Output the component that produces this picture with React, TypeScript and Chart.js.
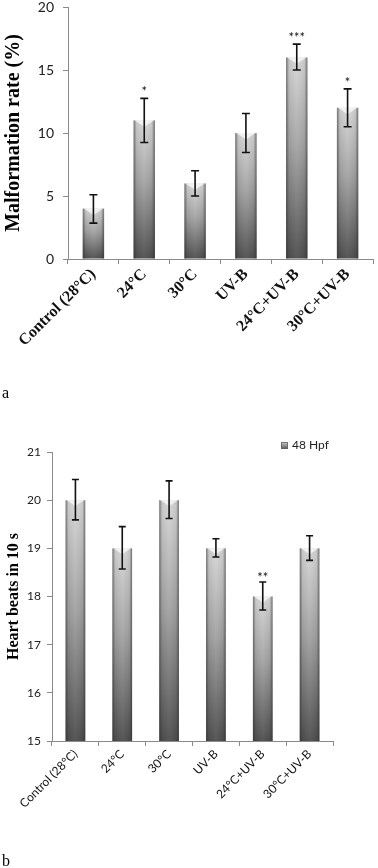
import React, { useEffect, useRef } from 'react';
import { Chart, registerables } from 'chart.js';

Chart.register(...registerables);

// ---------- data: panel a ----------
const categories = ['Control (28°C)', '24°C', '30°C', 'UV-B', '24°C+UV-B', '30°C+UV-B'];
const malformationRate = [4, 11, 6, 10, 16, 12];
const malformationLow = [2.85, 9.25, 5.0, 8.45, 15.0, 10.5];
const malformationHigh = [5.1, 12.75, 7.0, 11.55, 17.05, 13.5];
const malformationSig = ['', '*', '', '', '***', '*'];
const malformationTicks = [0, 5, 10, 15, 20];

// ---------- data: panel b ----------
const heartBeats = [20, 19, 20, 19, 18, 19];
const heartLow = [19.59, 18.57, 19.62, 18.82, 17.72, 18.75];
const heartHigh = [20.43, 19.45, 20.4, 19.2, 18.3, 19.26];
const heartSig = ['', '', '', '', '**', ''];
const heartTicks = [15, 16, 17, 18, 19, 20, 21];
const seriesLabel = '48 Hpf';

const AXIS = '#8a8a8a';

function barFill(c: any) {
  const chart = c.chart;
  if (c.type !== 'data' || !chart.chartArea) return '#9a9a9a';
  const ys = chart.scales.y;
  const top = ys.getPixelForValue(c.raw);
  const bottom = ys.getPixelForValue(ys.min);
  const g = chart.ctx.createLinearGradient(0, top, 0, bottom);
  g.addColorStop(0, '#d6d6d6');
  g.addColorStop(0.45, '#a2a2a2');
  g.addColorStop(1, '#4c4c4c');
  return g;
}

function makeDecor(low: number[], high: number[], sig: string[], cap: number, sigFont: string, sigGap: number) {
  return {
    id: 'barDecor',
    afterDatasetsDraw(chart: any) {
      const ctx = chart.ctx;
      const ys = chart.scales.y;
      const area = chart.chartArea;
      const meta = chart.getDatasetMeta(0);
      meta.data.forEach((bar: any, i: number) => {
        const { x, y, base, width } = bar.getProps(['x', 'y', 'base', 'width'], true);
        const left = x - width / 2;
        const right = x + width / 2;
        const bottom = Math.min(base, area.bottom);
        ctx.save();
        const hg = ctx.createLinearGradient(left, 0, right, 0);
        hg.addColorStop(0, 'rgba(45,45,45,0.6)');
        hg.addColorStop(0.14, 'rgba(45,45,45,0.08)');
        hg.addColorStop(0.5, 'rgba(255,255,255,0.06)');
        hg.addColorStop(0.86, 'rgba(45,45,45,0.08)');
        hg.addColorStop(1, 'rgba(45,45,45,0.6)');
        ctx.fillStyle = hg;
        ctx.fillRect(left, y, width, bottom - y);
        // top bevel
        ctx.beginPath();
        ctx.moveTo(left + 1, y);
        ctx.lineTo(right - 1, y);
        ctx.lineTo(x, y + width * 0.3);
        ctx.closePath();
        ctx.fillStyle = 'rgba(255,255,255,0.7)';
        ctx.fill();
        // error bars
        const lo = ys.getPixelForValue(low[i]);
        const hi = ys.getPixelForValue(high[i]);
        ctx.strokeStyle = '#111';
        ctx.lineWidth = 1.6;
        ctx.beginPath();
        ctx.moveTo(x, lo);
        ctx.lineTo(x, hi);
        ctx.moveTo(x - cap / 2, lo);
        ctx.lineTo(x + cap / 2, lo);
        ctx.moveTo(x - cap / 2, hi);
        ctx.lineTo(x + cap / 2, hi);
        ctx.stroke();
        if (sig[i]) {
          ctx.fillStyle = '#111';
          ctx.font = sigFont;
          ctx.textAlign = 'center';
          ctx.textBaseline = 'alphabetic';
          ctx.fillText(sig[i], x, hi - sigGap);
        }
        ctx.restore();
      });
    },
  };
}

const legendPlugin = {
  id: 'seriesLegend',
  afterDraw(chart: any) {
    const ctx = chart.ctx;
    const area = chart.chartArea;
    const bx = area.right - 52;
    const by = area.top - 10;
    ctx.save();
    const g = ctx.createLinearGradient(0, by, 0, by + 7);
    g.addColorStop(0, '#d0d0d0');
    g.addColorStop(1, '#555');
    ctx.fillStyle = g;
    ctx.fillRect(bx, by, 7, 7);
    ctx.strokeStyle = '#666';
    ctx.lineWidth = 0.8;
    ctx.strokeRect(bx + 0.5, by + 0.5, 6, 6);
    ctx.fillStyle = '#222';
    ctx.font = '12px Lato';
    ctx.textAlign = 'left';
    ctx.textBaseline = 'middle';
    ctx.fillText(seriesLabel, bx + 11, by + 3.5);
    ctx.restore();
  },
};

function makeConfig(opts: {
  values: number[];
  min: number;
  max: number;
  step: number;
  tickValues: number[];
  title: string;
  titleSize: number;
  titlePad: number;
  yWidth: number;
  xHeight: number;
  padTop: number;
  padRight: number;
  xFont: any;
  yFont: any;
  yPad: number;
  plugins: any[];
}): any {
  return {
    type: 'bar',
    data: {
      labels: categories,
      datasets: [
        {
          label: seriesLabel,
          data: opts.values,
          backgroundColor: barFill,
          borderWidth: 0,
          barPercentage: 0.42,
          categoryPercentage: 1,
        },
      ],
    },
    plugins: opts.plugins,
    options: {
      responsive: false,
      animation: false,
      devicePixelRatio: 1,
      layout: { padding: { top: opts.padTop, right: opts.padRight, left: 0, bottom: 0 } },
      plugins: { legend: { display: false }, tooltip: { enabled: false } },
      scales: {
        x: {
          offset: true,
          grid: { drawOnChartArea: false, drawTicks: true, tickLength: 5, color: AXIS, offset: true },
          border: { display: true, color: AXIS, width: 1 },
          ticks: {
            autoSkip: false,
            maxRotation: 45,
            minRotation: 45,
            padding: 1,
            color: '#111',
            font: opts.xFont,
          },
          afterFit: (s: any) => {
            s.height = opts.xHeight;
            s.paddingLeft = 0;
            s.paddingRight = 0;
          },
        },
        y: {
          min: opts.min,
          max: opts.max,
          grid: { drawOnChartArea: false, drawTicks: true, tickLength: 5, color: AXIS },
          border: { display: true, color: AXIS, width: 1 },
          afterBuildTicks: (s: any) => {
            s.ticks = opts.tickValues.map((v) => ({ value: v }));
          },
          ticks: { stepSize: opts.step, padding: opts.yPad, color: '#222', font: opts.yFont },
          title: {
            display: true,
            text: opts.title,
            color: '#000',
            font: { family: 'Liberation Serif', size: opts.titleSize, weight: 'bold' },
            padding: { top: opts.titlePad, bottom: 0 },
          },
          afterFit: (s: any) => {
            s.width = opts.yWidth;
            s.paddingTop = 0;
            s.paddingBottom = 0;
          },
        },
      },
    },
  };
}

function ChartCanvas({ config, width, height, top }: { config: () => any; width: number; height: number; top: number }) {
  const ref = useRef<HTMLCanvasElement | null>(null);
  useEffect(() => {
    if (!ref.current) return;
    const chart = new Chart(ref.current, config());
    return () => chart.destroy();
  }, []);
  return (
    <canvas
      ref={ref}
      width={width}
      height={height}
      style={{ position: 'absolute', left: 0, top, width, height, display: 'block' }}
    />
  );
}

export default function App() {
  const configA = () =>
    makeConfig({
      values: malformationRate,
      min: 0,
      max: 20,
      step: 5,
      tickValues: malformationTicks,
      title: 'Malformation rate (%)',
      titleSize: 20,
      titlePad: 2,
      yWidth: 68,
      xHeight: 126,
      padTop: 7,
      padRight: 5,
      xFont: { family: 'Liberation Serif', size: 16, weight: 'bold' },
      yFont: { family: 'Lato', size: 14 },
      yPad: 9,
      plugins: [makeDecor(malformationLow, malformationHigh, malformationSig, 8, '13px Lato', 2)],
    });
  const configB = () =>
    makeConfig({
      values: heartBeats,
      min: 15,
      max: 21,
      step: 1,
      tickValues: heartTicks,
      title: 'Heart beats in 10 s',
      titleSize: 16,
      titlePad: 4,
      yWidth: 52,
      xHeight: 99,
      padTop: 22,
      padRight: 45,
      xFont: { family: 'Lato', size: 12 },
      yFont: { family: 'Lato', size: 12 },
      yPad: 6,
      plugins: [makeDecor(heartLow, heartHigh, heartSig, 7, '13px Lato', 0), legendPlugin],
    });
  const labelStyle: React.CSSProperties = {
    position: 'absolute',
    left: 2,
    fontFamily: 'Liberation Serif, serif',
    fontSize: 16,
    lineHeight: '16px',
    color: '#000',
  };
  return (
    <div style={{ position: 'absolute', left: 0, top: 0, width: 378, height: 868, background: '#fff' }}>
      <ChartCanvas config={configA} width={378} height={385} top={0} />
      <div style={{ ...labelStyle, top: 385 }}>a</div>
      <ChartCanvas config={configB} width={378} height={410} top={430} />
      <div style={{ ...labelStyle, top: 853 }}>b</div>
    </div>
  );
}
